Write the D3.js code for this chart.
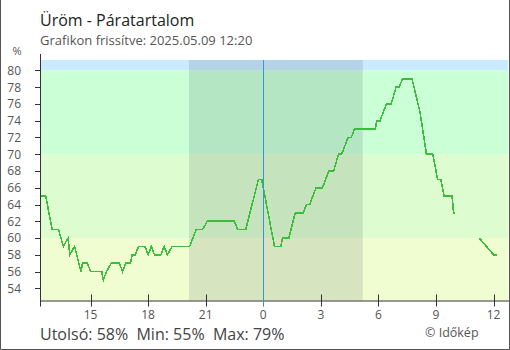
<!DOCTYPE html>
<html>
<head>
<meta charset="utf-8">
<script src="https://cdn.jsdelivr.net/npm/d3@7/dist/d3.min.js"></script>
<style>
  html, body { margin: 0; padding: 0; background: #fff; }
  svg { display: block; font-family: "Open Sans", sans-serif; }
</style>
</head>
<body>
<svg id="chart" width="510" height="350"></svg>
<script>
// Humidity readings (time, %) – null marks a gap in the record
const times = [
  "2025-05-08 12:25","2025-05-08 12:40","2025-05-08 13:00","2025-05-08 13:20","2025-05-08 13:35",
  "2025-05-08 13:50","2025-05-08 13:55","2025-05-08 14:10","2025-05-08 14:30","2025-05-08 14:35",
  "2025-05-08 14:50","2025-05-08 15:00","2025-05-08 15:35","2025-05-08 15:40","2025-05-08 15:50",
  "2025-05-08 16:05","2025-05-08 16:30","2025-05-08 16:40","2025-05-08 16:50","2025-05-08 17:05",
  "2025-05-08 17:10","2025-05-08 17:20","2025-05-08 17:30","2025-05-08 17:50","2025-05-08 18:00",
  "2025-05-08 18:10","2025-05-08 18:20","2025-05-08 18:40","2025-05-08 18:50","2025-05-08 19:00",
  "2025-05-08 19:15","2025-05-08 20:10","2025-05-08 20:30","2025-05-08 20:50","2025-05-08 21:05",
  "2025-05-08 22:30","2025-05-08 22:40","2025-05-08 23:05","2025-05-08 23:45","2025-05-08 23:55",
  "2025-05-09 00:35","2025-05-09 00:55","2025-05-09 01:00","2025-05-09 01:20","2025-05-09 01:40",
  "2025-05-09 02:05","2025-05-09 02:15","2025-05-09 02:25","2025-05-09 02:45","2025-05-09 03:05",
  "2025-05-09 03:25","2025-05-09 03:40","2025-05-09 03:55","2025-05-09 04:05","2025-05-09 04:25",
  "2025-05-09 04:35","2025-05-09 04:45","2025-05-09 05:50","2025-05-09 05:55","2025-05-09 06:05",
  "2025-05-09 06:25","2025-05-09 06:40","2025-05-09 06:55","2025-05-09 07:05","2025-05-09 07:15",
  "2025-05-09 07:45","2025-05-09 08:10","2025-05-09 08:30","2025-05-09 08:50","2025-05-09 09:05",
  "2025-05-09 09:15","2025-05-09 09:25","2025-05-09 09:50","2025-05-09 09:55","2025-05-09 10:00",
  "2025-05-09 10:10",
  "2025-05-09 11:15","2025-05-09 12:00","2025-05-09 12:10"
];
const humidity = [
  65, 65, 61, 61, 59,
  60, 58, 59, 56, 57,
  57, 56, 56, 55, 56,
  57, 57, 56, 57, 57,
  58, 58, 59, 59, 58,
  59, 58, 58, 59, 58,
  59, 59, 61, 61, 62,
  62, 61, 61, 67, 67,
  59, 59, 60, 60, 63,
  63, 64, 64, 66, 66,
  68, 68, 70, 70, 72,
  72, 73, 73, 74, 74,
  76, 76, 78, 78, 79,
  79, 75, 70, 70, 67,
  67, 65, 65, 63, 63,
  null,
  60, 58, 58
];

// Comfort bands behind the curve
const bandLows  = [81.25, 80, 70, 60];
const bandHighs = [80, 70, 60, 52.54];
const bandColors = ["#caeaff", "#cbffd6", "#ddfdd0", "#f0fdd1"];

const yTicks = [54, 56, 58, 60, 62, 64, 66, 68, 70, 72, 74, 76, 78, 80];
const xTickTimes = ["2025-05-08 15:00","2025-05-08 18:00","2025-05-08 21:00","2025-05-09 00:00",
                    "2025-05-09 03:00","2025-05-09 06:00","2025-05-09 09:00","2025-05-09 12:00"];
const sunset = "2025-05-08 20:08";
const sunrise = "2025-05-09 05:11";
const midnight = "2025-05-09 00:00";

const parse = d3.timeParse("%Y-%m-%d %H:%M");
const data = times.map((t, i) => ({ t: parse(t), v: humidity[i] }));

const svg = d3.select("#chart");
const plotLeft = 40, plotRight = 508, plotTop = 60, plotBottom = 300.5;

const x = d3.scaleTime()
  .domain([parse("2025-05-08 12:22"), parse("2025-05-09 12:45")])
  .range([plotLeft, plotRight]);
const y = d3.scaleLinear().domain([52.54, 81.25]).range([plotBottom, plotTop]);

// frame
svg.append("path")
  .attr("d", "M0.5,0 V349.5 H509.5 V0")
  .attr("fill", "none").attr("stroke", "#555").attr("stroke-width", 1);

// bands
svg.selectAll("rect.band").data(bandLows).join("rect")
  .attr("class", "band")
  .attr("x", plotLeft).attr("width", plotRight - plotLeft)
  .attr("y", (d) => y(d))
  .attr("height", (d, i) => y(bandHighs[i]) - y(d))
  .attr("fill", (d, i) => bandColors[i]);

// night shading
svg.append("rect")
  .attr("x", x(parse(sunset))).attr("y", plotTop)
  .attr("width", x(parse(sunrise)) - x(parse(sunset)))
  .attr("height", plotBottom - plotTop)
  .attr("fill", "rgba(10,30,50,0.11)");

// midnight marker
const xm = Math.round(x(parse(midnight))) + 0.5;
svg.append("line")
  .attr("x1", xm).attr("x2", xm)
  .attr("y1", plotTop).attr("y2", plotBottom + 6)
  .attr("stroke", "#3a94d6").attr("stroke-width", 1);

// humidity curve
const line = d3.line()
  .defined((d) => d.v !== null)
  .x((d) => x(d.t)).y((d) => y(d.v));
svg.append("path")
  .datum(data)
  .attr("d", line)
  .attr("fill", "none")
  .attr("stroke", "#3dbd3d")
  .attr("stroke-width", 1.6)
  .attr("stroke-linejoin", "miter")
  .attr("shape-rendering", "crispEdges");

// y axis
const yAxis = svg.append("g");
yAxis.append("line")
  .attr("x1", plotLeft + 0.5).attr("x2", plotLeft + 0.5)
  .attr("y1", 54).attr("y2", plotBottom + 6)
  .attr("stroke", "#333");
yAxis.selectAll("line.tick").data(yTicks).join("line")
  .attr("class", "tick")
  .attr("x1", 35).attr("x2", plotLeft)
  .attr("y1", (d) => Math.round(y(d)) + 0.5).attr("y2", (d) => Math.round(y(d)) + 0.5)
  .attr("stroke", "#333");
yAxis.selectAll("text").data(yTicks).join("text")
  .attr("x", 21).attr("y", (d) => y(d) + 4.3)
  .attr("text-anchor", "end")
  .attr("font-size", 12).attr("fill", "#555")
  .text((d) => d);
svg.append("text").attr("x", 17).attr("y", 55)
  .attr("text-anchor", "middle").attr("font-size", 11).attr("fill", "#555").text("%");

// x axis
const xAxis = svg.append("g");
xAxis.append("line")
  .attr("x1", plotLeft).attr("x2", plotRight + 1)
  .attr("y1", plotBottom + 0.5).attr("y2", plotBottom + 0.5)
  .attr("stroke", "#333");
const xt = xTickTimes.map(parse);
xAxis.selectAll("line.tick").data(xt).join("line")
  .attr("class", "tick")
  .attr("x1", (d) => Math.round(x(d)) + 0.5).attr("x2", (d) => Math.round(x(d)) + 0.5)
  .attr("y1", (d) => d.getHours() === 0 ? plotTop : plotBottom - 6).attr("y2", plotBottom + 6)
  .attr("stroke", (d) => d.getHours() === 0 ? "#3a94d6" : "#333");
xAxis.selectAll("text").data(xt).join("text")
  .attr("x", (d) => x(d)).attr("y", 319)
  .attr("text-anchor", "middle")
  .attr("font-size", 12).attr("fill", "#555")
  .text((d) => d.getHours());

// titles
svg.append("text").attr("x", 40).attr("y", 25.5)
  .attr("font-size", 16).attr("fill", "#222").text("Üröm - Páratartalom");
svg.append("text").attr("x", 40).attr("y", 45)
  .attr("font-size", 13).attr("fill", "#555").text("Grafikon frissítve: 2025.05.09 12:20");

// summary
const last = humidity[humidity.length - 1];
const vals = humidity.filter((v) => v !== null);
svg.append("text").attr("x", 40).attr("y", 339.5)
  .attr("font-size", 16).attr("fill", "#444")
  .attr("xml:space", "preserve")
  .text(`Utolsó: ${last}%  Min: ${d3.min(vals)}%  Max: ${d3.max(vals)}%`);
svg.append("text").attr("x", 425).attr("y", 337)
  .attr("font-size", 12.5).attr("fill", "#555").text("© Időkép");
</script>
</body>
</html>
